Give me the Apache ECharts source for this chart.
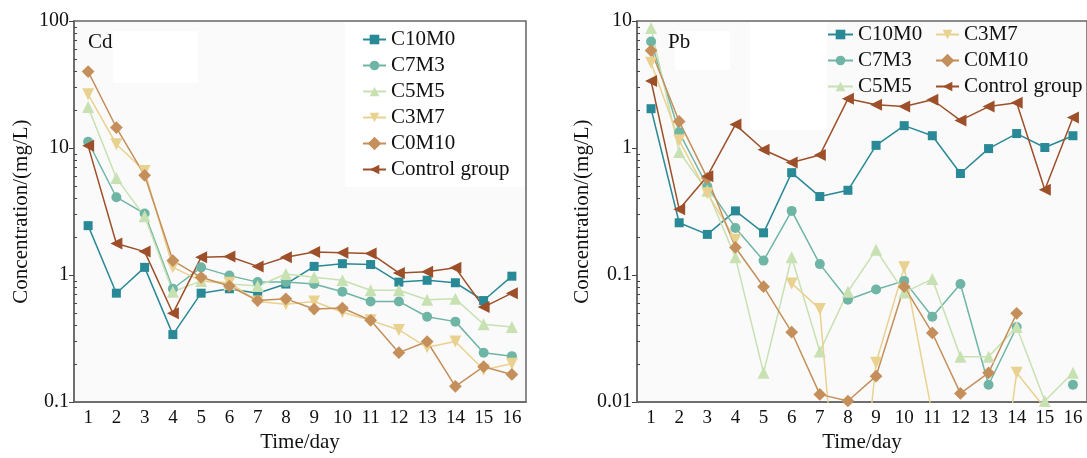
<!DOCTYPE html>
<html>
<head>
<meta charset="utf-8">
<script src="https://cdn.jsdelivr.net/npm/echarts@6/dist/echarts.min.js"></script>
<style>
  html, body { margin: 0; padding: 0; background: #fff; }
  #main { width: 1087px; height: 458px; }
</style>
</head>
<body>
<div id="main"></div>
<script>
// x categories
const days = ['1', '2', '3', '4', '5', '6', '7', '8', '9', '10', '11', '12', '13', '14', '15', '16'];
const names = ['C10M0', 'C7M3', 'C5M5', 'C3M7', 'C0M10', 'Control group'];

// Cd (left panel), mg/L
const cdC10M0 = [2.45, 0.72, 1.15, 0.34, 0.72, 0.78, 0.72, 0.85, 1.17, 1.23, 1.21, 0.88, 0.91, 0.87, 0.63, 0.98];
const cdC7M3 = [11.2, 4.1, 3.05, 0.78, 1.15, 0.99, 0.88, 0.88, 0.85, 0.74, 0.62, 0.62, 0.47, 0.43, 0.245, 0.23];
const cdC5M5 = [21, 5.8, 2.9, 0.74, 0.9, 0.85, 0.82, 1.02, 0.96, 0.91, 0.76, 0.76, 0.64, 0.65, 0.41, 0.39];
const cdC3M7 = [26.5, 10.7, 6.6, 1.15, 0.9, 0.87, 0.62, 0.59, 0.62, 0.51, 0.44, 0.37, 0.27, 0.3, 0.18, 0.2];
const cdC0M10 = [40, 14.5, 6.1, 1.3, 0.96, 0.82, 0.63, 0.65, 0.54, 0.55, 0.44, 0.245, 0.3, 0.133, 0.19, 0.165];
const cdControl = [10.4, 1.77, 1.53, 0.5, 1.38, 1.4, 1.17, 1.38, 1.52, 1.5, 1.48, 1.04, 1.06, 1.14, 0.56, 0.72];

// Pb (right panel), mg/L; null = no point
const pbC10M0 = [2.04, 0.258, 0.209, 0.32, 0.215, 0.64, 0.415, 0.465, 1.05, 1.5, 1.25, 0.63, 0.99, 1.3, 1.01, 1.25];
const pbC7M3 = [6.9, 1.33, 0.5, 0.235, 0.13, 0.32, 0.122, 0.064, 0.077, 0.09, 0.047, 0.085, 0.0137, 0.039, null, 0.0137];
const pbC5M5 = [8.8, 0.93, 0.46, 0.138, 0.017, 0.138, 0.025, 0.074, 0.158, 0.073, 0.093, 0.0228, 0.0228, 0.039, 0.0102, 0.017];
const pbC3M7 = [4.7, 1.15, 0.44, 0.19, null, 0.086, 0.054, 0.00015, 0.0204, 0.115, 0.008, 0.0005, 0.0004, 0.017, 0.009, null];
const pbC0M10 = [5.85, 1.62, 0.58, 0.165, 0.081, 0.0355, 0.0115, 0.0102, 0.016, 0.081, 0.035, 0.0117, 0.017, 0.05, null, null];
const pbControl = [3.37, 0.33, 0.6, 1.53, 0.97, 0.77, 0.88, 2.44, 2.19, 2.12, 2.4, 1.65, 2.12, 2.27, 0.47, 1.74];

// y tick labels
const cdTicks = [0.1, 1, 10, 100];
const pbTicks = [0.01, 0.1, 1, 10];

const colors = ['#2a8996', '#6fb5a5', '#c8e1b2', '#e9d18f', '#c48f5b', '#9d4f29'];
const marks = [
  { symbol: 'rect', size: 9, rotate: 0 },
  { symbol: 'circle', size: 10, rotate: 0 },
  { symbol: 'triangle', size: 12, rotate: 0 },
  { symbol: 'triangle', size: 12, rotate: 180 },
  { symbol: 'rect', size: 9, rotate: 45 },
  { symbol: 'triangle', size: 12, rotate: 90 }
];

function minorTicks(decades) {
  let out = [];
  decades.slice(0, -1).forEach(d => {
    for (let k = 2; k <= 9; k++) out.push(+(d * k).toPrecision(3));
  });
  return out;
}

const font = 'Liberation Serif';

function makeSeries(i, data, xi, yi) {
  return {
    name: names[i],
    type: 'line',
    xAxisIndex: xi,
    yAxisIndex: yi,
    data: data,
    symbol: marks[i].symbol,
    symbolSize: marks[i].size,
    symbolRotate: marks[i].rotate,
    clip: true,
    lineStyle: { width: 1.5, color: colors[i] },
    itemStyle: { color: colors[i] },
    emphasis: { disabled: true }
  };
}

function yMain(ticks, gridIndex, nameGap) {
  return {
    type: 'log',
    logBase: 10,
    gridIndex: gridIndex,
    position: 'left',
    min: ticks[0],
    max: ticks[ticks.length - 1],
    name: 'Concentration/(mg/L)',
    nameLocation: 'middle',
    nameGap: nameGap,
    nameTextStyle: { fontFamily: font, fontSize: 21, color: '#111' },
    axisLine: { show: true, lineStyle: { color: '#666', width: 1.5 } },
    axisTick: { show: true, length: 5, lineStyle: { color: '#444' }, customValues: ticks },
    axisLabel: {
      fontFamily: font, fontSize: 20, color: '#111', margin: 5,
      customValues: ticks,
      formatter: v => String(v)
    },
    splitLine: { show: false }
  };
}

// second axis on the same side, only for the 2..9 minor ticks
function yMinor(ticks, gridIndex) {
  return {
    type: 'log',
    logBase: 10,
    gridIndex: gridIndex,
    position: 'left',
    offset: 0,
    min: ticks[0],
    max: ticks[ticks.length - 1],
    axisLine: { show: false },
    axisTick: { show: true, inside: true, length: 3, lineStyle: { color: '#444' }, customValues: minorTicks(ticks) },
    axisLabel: { show: false },
    splitLine: { show: false }
  };
}

function xAxis(gridIndex) {
  return {
    type: 'category',
    gridIndex: gridIndex,
    data: days,
    boundaryGap: true,
    name: 'Time/day',
    nameLocation: 'middle',
    nameGap: 27,
    nameTextStyle: { fontFamily: font, fontSize: 21, color: '#111' },
    axisLine: { lineStyle: { color: '#666', width: 1.5 } },
    axisTick: { alignWithLabel: true, inside: true, length: 4, lineStyle: { color: '#444' } },
    axisLabel: { fontFamily: font, fontSize: 19, color: '#111', margin: 6, interval: 0 },
    splitLine: { show: false }
  };
}

const legendText = { fontFamily: font, fontSize: 21, color: '#111', lineHeight: 21 };

const chart = echarts.init(document.getElementById('main'), null, { renderer: 'canvas' });

chart.setOption({
  animation: false,
  backgroundColor: '#fff',
  textStyle: { fontFamily: font },
  grid: [
    { left: 74, top: 21, width: 452, height: 387, show: true, backgroundColor: '#fafafa', borderColor: '#666', borderWidth: 1.5 },
    { left: 637, top: 21, width: 452, height: 387, show: true, backgroundColor: '#fafafa', borderColor: '#666', borderWidth: 1.5 }
  ],
  xAxis: [xAxis(0), xAxis(1)],
  yAxis: [yMain(cdTicks, 0, 42), yMinor(cdTicks, 0), yMain(pbTicks, 1, 42), yMinor(pbTicks, 1)],
  legend: [
    {
      data: names, orient: 'vertical', left: 345, top: 22,
      padding: [7, 15, 7, 17], itemGap: 5, itemWidth: 23, itemHeight: 12,
      backgroundColor: '#fff', textStyle: legendText, selectedMode: false
    },
    {
      data: names.slice(0, 3), orient: 'vertical', left: 827, top: 24,
      padding: 0, itemGap: 5, itemWidth: 25, itemHeight: 12,
      textStyle: legendText, selectedMode: false
    },
    {
      data: names.slice(3), orient: 'vertical', left: 935, top: 24,
      padding: 0, itemGap: 5, itemWidth: 23, itemHeight: 12,
      textStyle: legendText, selectedMode: false
    }
  ],
  graphic: [
    { type: 'rect', z: 1, shape: { x: 113, y: 31, width: 85, height: 52 }, style: { fill: '#fff' } },
    { type: 'rect', z: 1, shape: { x: 675, y: 31, width: 55, height: 39 }, style: { fill: '#fff' } },
    { type: 'rect', z: 1, shape: { x: 750, y: 22, width: 77, height: 108 }, style: { fill: '#fff' } },
    { type: 'text', z: 3, left: 88, top: 32, style: { text: 'Cd', font: '21px "Liberation Serif"', fill: '#111' } },
    { type: 'text', z: 3, left: 668, top: 32, style: { text: 'Pb', font: '21px "Liberation Serif"', fill: '#111' } }
  ],
  series: [
    makeSeries(0, cdC10M0, 0, 0),
    makeSeries(1, cdC7M3, 0, 0),
    makeSeries(2, cdC5M5, 0, 0),
    makeSeries(3, cdC3M7, 0, 0),
    makeSeries(4, cdC0M10, 0, 0),
    makeSeries(5, cdControl, 0, 0),
    makeSeries(0, pbC10M0, 1, 2),
    makeSeries(1, pbC7M3, 1, 2),
    makeSeries(2, pbC5M5, 1, 2),
    makeSeries(3, pbC3M7, 1, 2),
    makeSeries(4, pbC0M10, 1, 2),
    makeSeries(5, pbControl, 1, 2)
  ]
});
</script>
</body>
</html>
